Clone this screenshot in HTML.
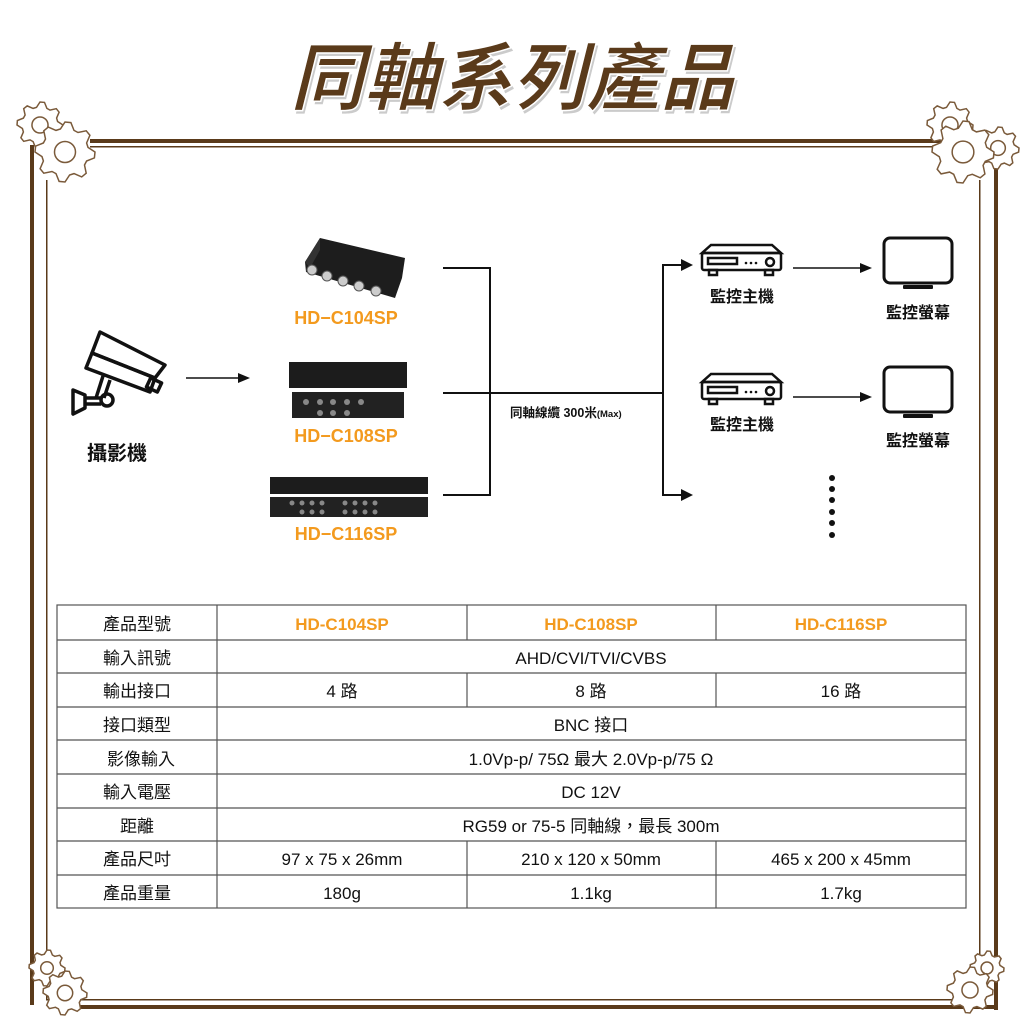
<!DOCTYPE html>
<html><head><meta charset="utf-8"><style>
body{margin:0;background:#fff;}
svg text{font-family:"Liberation Sans","Noto Sans CJK TC",sans-serif;}
</style></head><body>
<svg id="s" width="1024" height="1024" viewBox="0 0 1024 1024" xmlns="http://www.w3.org/2000/svg">
<rect width="1024" height="1024" fill="#fff"/>
<g fill="#5a3a1a">
<rect x="90" y="139" width="906" height="4"/>
<rect x="90" y="146" width="890" height="1.5"/>
<rect x="30" y="145" width="4" height="860"/>
<rect x="46" y="180" width="1.5" height="820"/>
<rect x="994" y="160" width="4" height="850"/>
<rect x="979" y="180" width="1.5" height="820"/>
<rect x="60" y="1005" width="938" height="4"/>
<rect x="46" y="999" width="934" height="1.5"/>
</g>
<g id="gears" fill="#fff" stroke="#7a5a3a" stroke-width="1.5"></g>
<g font-style="italic" font-weight="bold" font-size="74" text-anchor="middle">
<text x="514" y="107" fill="#999" opacity="0.5" style="font-family:'Noto Sans CJK TC',sans-serif">同軸系列產品</text>
<text x="512" y="104" fill="#5a3a1a" stroke="#fff" stroke-width="1.5" style="font-family:'Noto Sans CJK TC',sans-serif">同軸系列產品</text>
</g>
<g stroke="#111" stroke-width="3.5" fill="none" stroke-linejoin="round">
<polygon points="100,332 165,365 155,378 92,353"/>
<polygon points="92,353 155,378 150,392 86,368"/>
<rect x="148" y="380" width="12" height="10" transform="rotate(25 154 385)"/>
<line x1="103" y1="376" x2="96" y2="398"/>
<line x1="110" y1="380" x2="104" y2="398"/>
<circle cx="107" cy="400" r="6"/>
<line x1="86" y1="398" x2="101" y2="398"/>
<line x1="86" y1="404" x2="101" y2="404"/>
<polygon points="73,390 85,395 85,408 73,414"/>
</g>
<text x="117" y="460" font-size="20" font-weight="bold" text-anchor="middle" fill="#111">攝影機</text>
<line x1="186" y1="378" x2="240" y2="378" stroke="#111" stroke-width="1.5"/>
<polygon points="250,378 238,373 238,383" fill="#111"/>
<g>
<polygon points="320,238 405,258 402,278 395,298 306,272 305,262" fill="#1d1d1d"/>
<polygon points="305,262 320,238 320,250 310,268" fill="#333"/>
<g fill="#ccc" stroke="#555"><circle cx="312" cy="270" r="5"/><circle cx="327" cy="276" r="5"/><circle cx="343" cy="281" r="5"/><circle cx="359" cy="286" r="5"/><circle cx="376" cy="291" r="5"/></g>
<rect x="289" y="362" width="118" height="26" fill="#1c1c1c"/>
<rect x="292" y="392" width="112" height="26" fill="#222"/>
<rect x="270" y="477" width="158" height="17" fill="#1c1c1c"/>
<rect x="270" y="497" width="158" height="20" fill="#222"/>
<g fill="#888"><circle cx="306" cy="402" r="3"/><circle cx="320" cy="402" r="3"/><circle cx="333" cy="402" r="3"/><circle cx="347" cy="402" r="3"/><circle cx="361" cy="402" r="3"/><circle cx="320" cy="413" r="3"/><circle cx="333" cy="413" r="3"/><circle cx="347" cy="413" r="3"/>
<circle cx="292" cy="503" r="2.5"/><circle cx="302" cy="503" r="2.5"/><circle cx="312" cy="503" r="2.5"/><circle cx="322" cy="503" r="2.5"/><circle cx="345" cy="503" r="2.5"/><circle cx="355" cy="503" r="2.5"/><circle cx="365" cy="503" r="2.5"/><circle cx="375" cy="503" r="2.5"/>
<circle cx="302" cy="512" r="2.5"/><circle cx="312" cy="512" r="2.5"/><circle cx="322" cy="512" r="2.5"/><circle cx="345" cy="512" r="2.5"/><circle cx="355" cy="512" r="2.5"/><circle cx="365" cy="512" r="2.5"/><circle cx="375" cy="512" r="2.5"/></g>
</g>
<g font-size="18" font-weight="bold" fill="#f39a1e" text-anchor="middle">
<text x="346" y="324">HD−C104SP</text>
<text x="346" y="442">HD−C108SP</text>
<text x="346" y="540">HD−C116SP</text>
</g>
<g stroke="#111" stroke-width="2" fill="none">
<polyline points="443,268 490,268 490,495 443,495"/>
<line x1="443" y1="393" x2="663" y2="393"/>
<polyline points="683,265 663,265 663,495 683,495"/>
<line x1="793" y1="268" x2="862" y2="268" stroke-width="1.5"/>
<line x1="793" y1="397" x2="862" y2="397" stroke-width="1.5"/>
</g>
<g fill="#111">
<polygon points="693,265 681,259 681,271"/>
<polygon points="693,495 681,489 681,501"/>
<polygon points="872,268 860,263 860,273"/>
<polygon points="872,397 860,392 860,402"/>
</g>
<text x="510" y="417" font-size="12.5" font-weight="bold" fill="#111">同軸線纜 300米<tspan font-size="9.5">(Max)</tspan></text>
<g id="rec" stroke="#111" stroke-width="2.5" fill="none">
<polygon points="711,245 772,245 781,253 702,253"/>
<rect x="702" y="253" width="79" height="17" rx="2"/>
<rect x="708" y="258" width="29" height="6"/>
<circle cx="770" cy="262" r="4"/>
<rect x="709" y="270" width="8" height="5"/><rect x="765" y="270" width="8" height="5"/>
</g>
<g fill="#111"><circle cx="746" cy="263" r="1.3"/><circle cx="751" cy="263" r="1.3"/><circle cx="756" cy="263" r="1.3"/></g>
<use href="#rec" y="129"/>
<g fill="#111"><circle cx="746" cy="392" r="1.3"/><circle cx="751" cy="392" r="1.3"/><circle cx="756" cy="392" r="1.3"/></g>
<g font-size="16" font-weight="bold" fill="#111" text-anchor="middle">
<text x="742" y="302">監控主機</text>
<text x="742" y="430">監控主機</text>
<text x="918" y="318">監控螢幕</text>
<text x="918" y="446">監控螢幕</text>
</g>
<g stroke="#111" stroke-width="3" fill="none">
<rect x="884" y="238" width="68" height="45" rx="6"/>
<rect x="884" y="367" width="68" height="45" rx="6"/>
</g>
<g fill="#111"><rect x="903" y="285" width="30" height="4" rx="1"/><rect x="903" y="414" width="30" height="4" rx="1"/>
<circle cx="832" cy="478" r="3"/><circle cx="832" cy="489" r="3"/><circle cx="832" cy="500" r="3"/><circle cx="832" cy="512" r="3"/><circle cx="832" cy="523" r="3"/><circle cx="832" cy="535" r="3"/></g>
<g stroke="#555" stroke-width="1.2" fill="none">
<rect x="57" y="605" width="909" height="303"/>
<line x1="217" y1="605" x2="217" y2="908"/>
<line x1="57" y1="640" x2="966" y2="640"/>
<line x1="57" y1="673" x2="966" y2="673"/>
<line x1="57" y1="707" x2="966" y2="707"/>
<line x1="57" y1="740" x2="966" y2="740"/>
<line x1="57" y1="774" x2="966" y2="774"/>
<line x1="57" y1="808" x2="966" y2="808"/>
<line x1="57" y1="841" x2="966" y2="841"/>
<line x1="57" y1="875" x2="966" y2="875"/>
<line x1="467" y1="605" x2="467" y2="640"/><line x1="716" y1="605" x2="716" y2="640"/>
<line x1="467" y1="673" x2="467" y2="707"/><line x1="716" y1="673" x2="716" y2="707"/>
<line x1="467" y1="841" x2="467" y2="908"/><line x1="716" y1="841" x2="716" y2="908"/>
</g>
<g font-size="17" fill="#111" text-anchor="middle">
<text x="137" y="630">產品型號</text>
<text x="137" y="664">輸入訊號</text>
<text x="137" y="697">輸出接口</text>
<text x="137" y="731">接口類型</text>
<text x="141" y="765">影像輸入</text>
<text x="137" y="798">輸入電壓</text>
<text x="137" y="832">距離</text>
<text x="137" y="865">產品尺吋</text>
<text x="137" y="899">產品重量</text>
<g font-weight="bold" fill="#f39a1e"><text x="342" y="630">HD-C104SP</text><text x="591" y="630">HD-C108SP</text><text x="841" y="630">HD-C116SP</text></g>
<text x="591" y="664">AHD/CVI/TVI/CVBS</text>
<text x="342" y="697">4 路</text><text x="591" y="697">8 路</text><text x="841" y="697">16 路</text>
<text x="591" y="731">BNC 接口</text>
<text x="591" y="765">1.0Vp-p/ 75Ω  最大 2.0Vp-p/75  Ω</text>
<text x="591" y="798">DC 12V</text>
<text x="591" y="832">RG59 or 75-5 同軸線，最長  300m</text>
<text x="342" y="865">97 x 75 x 26mm</text><text x="591" y="865">210 x 120 x 50mm</text><text x="841" y="865">465 x 200 x 45mm</text>
<text x="342" y="899">180g</text><text x="591" y="899">1.1kg</text><text x="841" y="899">1.7kg</text>
</g>
</svg>
<script>
(function(){
var g=document.getElementById('gears');
function gear(cx,cy,R){
 var n=8,ri=R*0.78,d='';
 for(var i=0;i<n*4;i++){
  var a=i/(n*4)*Math.PI*2, r=(i%4==0||i%4==1)?R:ri;
  d+=(i?'L':'M')+(cx+r*Math.cos(a)).toFixed(1)+','+(cy+r*Math.sin(a)).toFixed(1);
 }
 d+='Z';
 var p=document.createElementNS('http://www.w3.org/2000/svg','path');p.setAttribute('d',d);g.appendChild(p);
 var c=document.createElementNS('http://www.w3.org/2000/svg','circle');c.setAttribute('cx',cx);c.setAttribute('cy',cy);c.setAttribute('r',R*0.35);g.appendChild(c);
}
gear(40,125,23);gear(65,152,30);
gear(950,125,23);gear(998,148,21);gear(963,152,31);
gear(47,968,18);gear(65,993,22);
gear(987,968,17);gear(970,990,23);
})();
</script>
</body></html>
